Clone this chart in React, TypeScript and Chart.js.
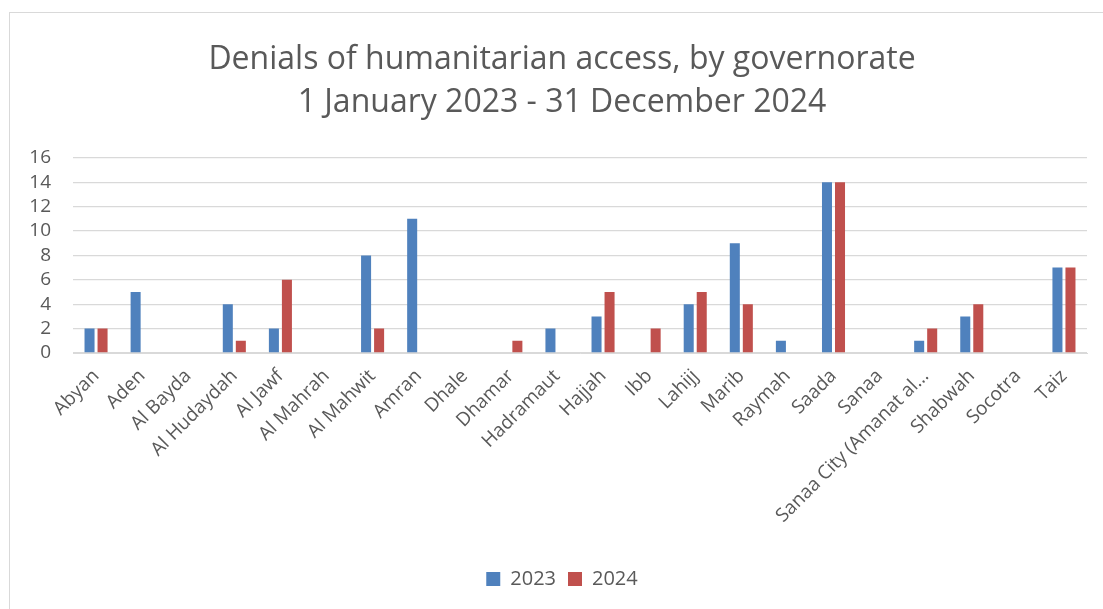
import React, { useEffect, useRef } from "react";
import { Chart, registerables } from "chart.js";

Chart.register(...registerables);

const categories = [
  "Abyan", "Aden", "Al Bayda", "Al Hudaydah", "Al Jawf", "Al Mahrah", "Al Mahwit",
  "Amran", "Dhale", "Dhamar", "Hadramaut", "Hajjah", "Ibb", "Lahijj", "Marib",
  "Raymah", "Saada", "Sanaa", "Sanaa City (Amanat al...", "Shabwah", "Socotra", "Taiz",
];
const values2023 = [2, 5, 0, 4, 2, 0, 8, 11, 0, 0, 2, 3, 0, 4, 9, 1, 14, 0, 1, 3, 0, 7];
const values2024 = [2, 0, 0, 1, 6, 0, 2, 0, 0, 1, 0, 5, 2, 5, 4, 0, 14, 0, 2, 4, 0, 7];
const seriesNames = ["2023", "2024"];
const titleLines = ["Denials of humanitarian access, by governorate", "1 January 2023 - 31 December 2024"];

const FONT = "'Open Sans', sans-serif";
const GRAY = "#595959";

export default function App() {
  const ref = useRef<HTMLCanvasElement | null>(null);
  useEffect(() => {
    if (!ref.current) return;
    const chart = new Chart(ref.current, {
      type: "bar",
      data: {
        labels: categories,
        datasets: [
          { label: seriesNames[0], data: values2023, backgroundColor: "#4F81BD", categoryPercentage: 0.565, barPercentage: 0.77 },
          { label: seriesNames[1], data: values2024, backgroundColor: "#C0504D", categoryPercentage: 0.565, barPercentage: 0.77 },
        ],
      },
      options: {
        animation: false,
        responsive: false,
        maintainAspectRatio: false,
        layout: { padding: { left: 0, right: 0, top: 0, bottom: 14 } },
        plugins: {
          title: {
            display: true,
            text: titleLines,
            color: GRAY,
            font: { family: FONT, size: 32, weight: "normal", lineHeight: 1.34 },
            padding: { top: 25.5, bottom: 33.5 },
          },
          legend: {
            position: "bottom",
            labels: {
              color: GRAY,
              font: { family: FONT, size: 20 },
              boxWidth: 14,
              boxHeight: 14,
              padding: 12,
            },
          },
          tooltip: { enabled: false },
        },
        scales: {
          x: {
            grid: { display: false },
            border: { color: "#d9d9d9", width: 1 },
            ticks: {
              color: GRAY,
              font: { family: FONT, size: 19 },
              autoSkip: false,
              minRotation: 45,
              maxRotation: 45,
              padding: 4,
            },
            afterFit: (s: any) => { s.height = 204; },
          },
          y: {
            min: 0,
            max: 16,
            ticks: { stepSize: 2, autoSkip: false, color: GRAY, font: { family: FONT, size: 19 }, padding: 22 },
            grid: { color: "#d9d9d9", lineWidth: 1.3, drawTicks: false },
            border: { display: false },
            afterFit: (s: any) => { s.width = 63; },
          },
          yRight: {
            position: "right",
            display: true,
            min: 0,
            max: 16,
            grid: { display: false, drawTicks: false },
            ticks: { display: false },
            border: { display: false },
            afterFit: (s: any) => { s.width = 27; },
          },
        },
      },
    });
    return () => chart.destroy();
  }, []);
  return (
    <div style={{ position: "fixed", inset: 0, overflow: "hidden", background: "#fff" }}>
      <div style={{ position: "absolute", left: 9, top: 12, width: 1104, height: 600, borderLeft: "1px solid #d9d9d9", borderTop: "1px solid #d9d9d9" }}>
        <canvas ref={ref} width={1104} height={600} style={{ display: "block" }} />
      </div>
    </div>
  );
}
